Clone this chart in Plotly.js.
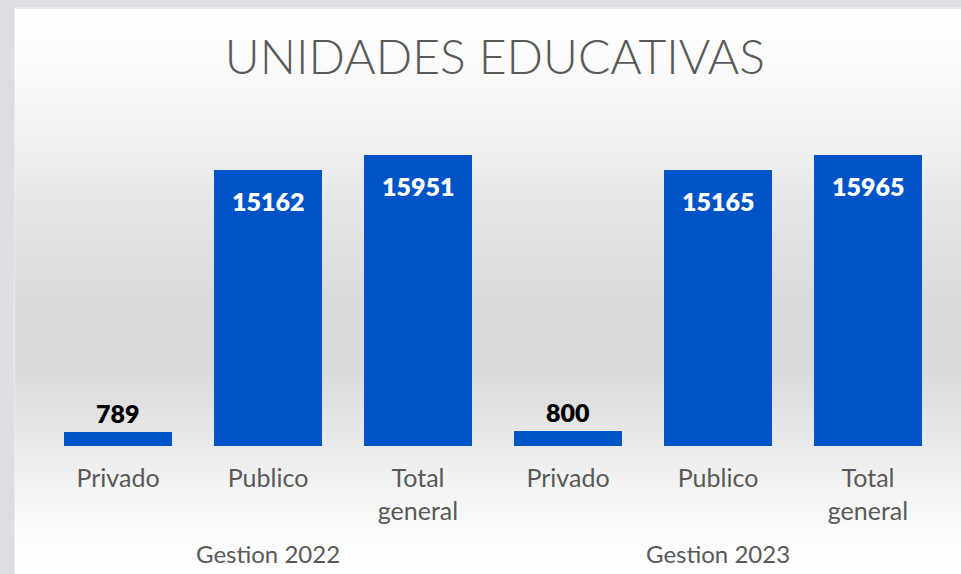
<!DOCTYPE html>
<html>
<head>
<meta charset="utf-8">
<script src="https://cdn.plot.ly/plotly-3.0.1.min.js"></script>
<style>
  html, body { margin: 0; padding: 0; width: 961px; height: 574px; overflow: hidden; background: #dedee2; }
  #frame { position: absolute; left: 14px; top: 7px; width: 947px; height: 567px;
    background: linear-gradient(to bottom, #ffffff 0px, #fafafa 60px, #f0f0f0 140px, #e2e2e2 220px, #d9d9d9 300px, #d9d9d9 360px, #e6e6e6 420px, #f2f2f2 470px, #fbfbfb 520px, #ffffff 567px);
    border-top: 2px solid #e9e9ec; border-left: 1px solid #e9e9ec; }
  #chart { position: absolute; left: 0; top: 0; width: 961px; height: 574px; }
</style>
</head>
<body>
<div id="frame"></div>
<div id="chart"></div>
<script>
const title = "UNIDADES EDUCATIVAS";
const groups = ["Gestion 2022", "Gestion 2023"];
const categories = ["Privado", "Publico", "Total<br>general"];
const values2022 = [789, 15162, 15951];
const values2023 = [800, 15165, 15965];

const seriesByGroup = [values2022, values2023];
const xs = [], ys = [], tickText = [];
groups.forEach((g, gi) => {
  categories.forEach((c, ci) => {
    xs.push(gi * categories.length + ci);
    ys.push(seriesByGroup[gi][ci]);
    tickText.push(c);
  });
});

const maxVal = Math.max(...ys);
const annotations = [];
xs.forEach((x, i) => {
  const inside = ys[i] > maxVal * 0.3;
  annotations.push({
    x: x, y: ys[i], xref: 'x', yref: 'y',
    text: String(ys[i]), showarrow: false,
    yanchor: inside ? 'middle' : 'bottom',
    yshift: inside ? -31 : 2,
    font: { family: 'Lato, "DejaVu Sans", sans-serif', size: 25, weight: 800, color: inside ? '#ffffff' : '#000000' }
  });
});
groups.forEach((g, gi) => {
  annotations.push({
    x: gi * categories.length + (categories.length - 1) / 2, xref: 'x',
    y: 0, yref: 'paper', yanchor: 'middle', yshift: -107,
    text: g, showarrow: false,
    font: { family: 'Lato, "Open Sans", sans-serif', size: 24, color: '#595959' }
  });
});

const trace = {
  type: 'bar', x: xs, y: ys,
  width: 0.715,
  marker: { color: '#0053c6', line: { width: 0 } },
  hoverinfo: 'skip'
};

const layout = {
  width: 961, height: 574,
  paper_bgcolor: 'rgba(0,0,0,0)', plot_bgcolor: 'rgba(0,0,0,0)',
  margin: { l: 43, r: 18, t: 118, b: 128 },
  title: { text: title, x: 0.515, xanchor: 'center', y: 0.9, yanchor: 'middle',
    font: { family: 'Lato, "Open Sans", sans-serif', size: 48, weight: 300, color: '#595959' } },
  xaxis: { type: 'linear', range: [-0.5, 5.5], tickvals: xs, ticktext: tickText,
    showgrid: false, zeroline: false, showline: false, ticks: '',
    tickfont: { family: 'Lato, "Open Sans", sans-serif', size: 25, color: '#595959' }, ticklabelstandoff: 15 },
  yaxis: { range: [0, 18000], visible: false, showgrid: false, zeroline: false },
  showlegend: false,
  annotations: annotations,
  bargap: 0
};

Plotly.newPlot('chart', [trace], layout, { displayModeBar: false, staticPlot: true });
</script>
</body>
</html>
